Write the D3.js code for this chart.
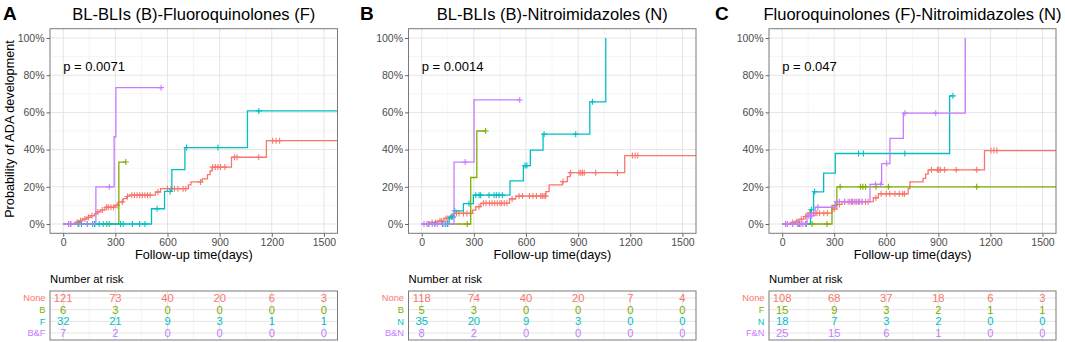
<!DOCTYPE html>
<html><head><meta charset="utf-8">
<script src="https://cdn.jsdelivr.net/npm/d3@7"></script>
<style>
html,body{margin:0;padding:0;background:#fff;}
svg{display:block;font-family:"Liberation Sans",Arial,sans-serif;}
</style></head>
<body><svg id="chart" width="1065" height="342"></svg>
<script>
// ---------- shared ----------
const xTicks = [0, 300, 600, 900, 1200, 1500];
const xMinor = [150, 450, 750, 1050, 1350];
const yTicks = [0, 20, 40, 60, 80, 100];
const yMinor = [10, 30, 50, 70, 90];
const colors = ["#F8766D", "#7CAE00", "#00BFC4", "#C77CFF"];
const letters = ["A", "B", "C"];
const titles = ["BL-BLIs (B)-Fluoroquinolones (F)", "BL-BLIs (B)-Nitroimidazoles (N)", "Fluoroquinolones (F)-Nitroimidazoles (N)"];
const pvals = ["p = 0.0071", "p = 0.0014", "p = 0.047"];
const strataA = ["None", "B", "F", "B&F"];
const strataB = ["None", "B", "N", "B&N"];
const strataC = ["None", "F", "N", "F&N"];

// ---------- Panel A ----------
const A_None_t = [0,67,90,110,135,160,180,195,215,240,300,316,345,365,380,530,560,720,735,800,830,845,856,968,1169];
const A_None_p = [0,0.9,1.8,2.7,3.6,4.5,5.5,6.5,7.5,9.0,10.0,11.8,13.6,14.8,15.5,17.2,19.0,21.0,22.6,24.3,26.5,28.5,30.6,35.9,44.8];
const A_None_c = [40,80,100,125,145,165,200,225,250,260,275,290,310,340,370,395,410,425,440,455,470,485,500,545,600,620,640,660,690,705,790,860,875,890,905,930,985,1000,1125,1205,1225,1245];
const A_B_t = [0,320];
const A_B_p = [0,33.3];
const A_B_c = [86,180,250,360];
const A_F_t = [0,508,583,625,700,1060];
const A_F_p = [0,8.2,17.5,29.2,41.1,60.8];
const A_F_c = [90,105,138,169,182,207,230,264,330,345,398,440,470,540,615,710,890,1125];
const A_BF_t = [0,188,293,303];
const A_BF_p = [0,20,46.9,73.3];
const A_BF_c = [30,45,265,563];
const A_end = [1600, 360, 1600, 563];
const A_risk_None = [121, 73, 40, 20, 6, 3];
const A_risk_B = [6, 3, 0, 0, 0, 0];
const A_risk_F = [32, 21, 9, 3, 1, 1];
const A_risk_BF = [7, 2, 0, 0, 0, 0];

// ---------- Panel B ----------
const B_None_t = [0,42,90,128,167,186,292,311,340,505,541,714,733,810,838,854,1168];
const B_None_p = [0,0.8,1.6,3.0,4.3,5.7,7.5,9.3,11.1,13.5,15.0,17.4,21.0,22.8,25.5,27.6,36.8];
const B_None_c = [30,60,80,105,115,140,150,175,200,215,240,260,280,330,355,370,390,405,420,435,450,460,475,490,520,560,580,620,640,660,685,694,704,713,813,857,905,915,925,935,1001,1126,1212,1228,1243];
const B_B_t = [0,282,317];
const B_B_p = [0,25,50];
const B_B_c = [150,262,368];
const B_N_t = [0,158,186,240,297,508,585,625,698,967,1059];
const B_N_p = [0,3.7,7.1,11.0,15.5,23.2,31.4,39.7,48.3,65.7,100];
const B_N_c = [40,75,119,138,148,170,180,190,272,311,330,339,387,416,429,445,464,595,605,704,886,982];
const B_BN_t = [0,186,301];
const B_BN_p = [0,33.3,66.7];
const B_BN_c = [13,42,61,90,128,250,564];
const B_end = [1600, 368, 1059, 564];
const B_risk_None = [118, 74, 40, 20, 7, 4];
const B_risk_B = [5, 3, 0, 0, 0, 0];
const B_risk_N = [35, 20, 9, 3, 0, 0];
const B_risk_BN = [8, 2, 0, 0, 0, 0];

// ---------- Panel C ----------
const C_None_t = [0,48,76,96,124,143,287,315,344,525,554,726,736,812,827,841,1166];
const C_None_p = [0,0.8,1.5,2.5,4.0,5.8,8.0,10.5,12.0,14.0,16.2,19.0,22.6,24.5,26.8,29.1,39.5];
const C_None_c = [30,60,85,110,135,160,180,200,215,240,260,300,330,360,380,400,415,430,445,460,480,495,540,570,600,620,650,675,695,705,860,894,902,911,936,1003,1121,1203,1220,1237];
const C_F_t = [0,287,315];
const C_F_p = [0,10,20];
const C_F_c = [60,100,140,172,258,334,452,465,481,541,612,1121];
const C_N_t = [0,163,181,239,306,965];
const C_N_p = [0,7.7,17.3,27.3,37.9,68.9];
const C_N_c = [90,168,187,440,468,707,984];
const C_FN_t = [0,143,190,306,506,573,621,698,1055];
const C_FN_p = [0,4.5,9.0,12.0,21.3,32.5,46.0,59.6,100];
const C_FN_c = [19,29,60,90,95,109,120,134,153,163,170,205,315,330,360,390,405,425,440,460,538,568,602,707,885];
const C_end = [1600, 1600, 984, 1055];
const C_risk_None = [108, 68, 37, 18, 6, 3];
const C_risk_F = [15, 9, 3, 2, 1, 1];
const C_risk_N = [18, 7, 3, 2, 0, 0];
const C_risk_FN = [25, 15, 6, 1, 0, 0];

// ---------- assemble ----------
const panels = [
  {strata: strataA, t: [A_None_t, A_B_t, A_F_t, A_BF_t], p: [A_None_p, A_B_p, A_F_p, A_BF_p],
   c: [A_None_c, A_B_c, A_F_c, A_BF_c], end: A_end, risk: [A_risk_None, A_risk_B, A_risk_F, A_risk_BF]},
  {strata: strataB, t: [B_None_t, B_B_t, B_N_t, B_BN_t], p: [B_None_p, B_B_p, B_N_p, B_BN_p],
   c: [B_None_c, B_B_c, B_N_c, B_BN_c], end: B_end, risk: [B_risk_None, B_risk_B, B_risk_N, B_risk_BN]},
  {strata: strataC, t: [C_None_t, C_F_t, C_N_t, C_FN_t], p: [C_None_p, C_F_p, C_N_p, C_FN_p],
   c: [C_None_c, C_F_c, C_N_c, C_FN_c], end: C_end, risk: [C_risk_None, C_risk_F, C_risk_N, C_risk_FN]}
];

const layout = [
  {x0: 50, x1: 337.5, letterX: 3},
  {x0: 408.5, x1: 696, letterX: 360},
  {x0: 769, x1: 1056, letterX: 715}
];
const plotTop = 28.7, plotBottom = 233.3;
const tabTop = 291, tabBottom = 340;
const svg = d3.select("#chart");
const defs = svg.append("defs");

panels.forEach((P, pi) => {
  const L = layout[pi];
  const x = d3.scaleLinear().domain([-76, 1578]).range([L.x0, L.x1]);
  const y = d3.scaleLinear().domain([-5, 105]).range([plotBottom, plotTop]);
  const g = svg.append("g");

  // background grid
  g.selectAll(".xmin").data(xMinor).enter().append("line")
    .attr("x1", d => x(d)).attr("x2", d => x(d)).attr("y1", plotTop).attr("y2", plotBottom)
    .attr("stroke", "#F3F3F3").attr("stroke-width", 0.8);
  g.selectAll(".ymin").data(yMinor).enter().append("line")
    .attr("y1", d => y(d)).attr("y2", d => y(d)).attr("x1", L.x0).attr("x2", L.x1)
    .attr("stroke", "#F3F3F3").attr("stroke-width", 0.8);
  g.selectAll(".xmaj").data(xTicks).enter().append("line")
    .attr("x1", d => x(d)).attr("x2", d => x(d)).attr("y1", plotTop).attr("y2", plotBottom)
    .attr("stroke", "#E5E5E5").attr("stroke-width", 1);
  g.selectAll(".ymaj").data(yTicks).enter().append("line")
    .attr("y1", d => y(d)).attr("y2", d => y(d)).attr("x1", L.x0).attr("x2", L.x1)
    .attr("stroke", "#E5E5E5").attr("stroke-width", 1);

  // clip
  const cid = "clip" + pi;
  defs.append("clipPath").attr("id", cid).append("rect")
    .attr("x", L.x0).attr("y", plotTop).attr("width", L.x1 - L.x0).attr("height", plotBottom - plotTop);
  const cg = g.append("g").attr("clip-path", `url(#${cid})`);

  const line = d3.line().x(d => x(d[0])).y(d => y(d[1])).curve(d3.curveStepAfter);
  P.strata.forEach((s, si) => {
    const ts = P.t[si], ps = P.p[si];
    const pts = ts.map((t, i) => [t, ps[i]]);
    pts.push([P.end[si], ps[ps.length - 1]]);
    cg.append("path").attr("d", line(pts)).attr("fill", "none")
      .attr("stroke", colors[si]).attr("stroke-width", 1.3);
    const valAt = c => { let v = 0; ts.forEach((t, i) => { if (t <= c) v = ps[i]; }); return v; };
    P.c[si].forEach(c => {
      const cx = x(c), cy = y(valAt(c));
      cg.append("path").attr("d", `M${cx - 3},${cy}H${cx + 3}M${cx},${cy - 3}V${cy + 3}`)
        .attr("stroke", colors[si]).attr("stroke-width", 1.1).attr("fill", "none");
    });
  });

  // border
  g.append("rect").attr("x", L.x0).attr("y", plotTop).attr("width", L.x1 - L.x0).attr("height", plotBottom - plotTop)
    .attr("fill", "none").attr("stroke", "#7A7A7A").attr("stroke-width", 1);

  // axes
  const xa = d3.axisBottom(x).tickValues(xTicks).tickSize(3.5).tickPadding(2).tickFormat(d3.format("d"));
  const xg = g.append("g").attr("transform", `translate(0,${plotBottom})`).call(xa);
  const ya = d3.axisLeft(y).tickValues(yTicks).tickSize(3.5).tickPadding(2).tickFormat(d => d + "%");
  const yg = g.append("g").attr("transform", `translate(${L.x0},0)`).call(ya);
  [xg, yg].forEach(a => {
    a.select(".domain").remove();
    a.selectAll(".tick line").attr("stroke", "#666");
    a.selectAll("text").attr("fill", "#4D4D4D").attr("font-size", 10.5).attr("font-family", "Liberation Sans, Arial, sans-serif");
  });

  // titles
  svg.append("text").attr("x", L.letterX).attr("y", 19.5).text(letters[pi])
    .attr("font-size", 19).attr("font-weight", "bold").attr("fill", "#000");
  svg.append("text").attr("x", (L.x0 + L.x1) / 2).attr("y", 19.5).attr("text-anchor", "middle")
    .text(titles[pi]).attr("font-size", 16.5).attr("fill", "#000");
  svg.append("text").attr("x", x(0)).attr("y", 71).text(pvals[pi]).attr("font-size", 13).attr("fill", "#000");
  svg.append("text").attr("x", (L.x0 + L.x1) / 2).attr("y", 258.5).attr("text-anchor", "middle")
    .text("Follow-up time(days)").attr("font-size", 12.7).attr("fill", "#000");
  if (pi === 0) {
    svg.append("text").attr("transform", `translate(13.5,${(plotTop + plotBottom) / 2 - 2}) rotate(-90)`)
      .attr("text-anchor", "middle").text("Probability of ADA development").attr("font-size", 12.7).attr("fill", "#000");
  }

  // risk table
  const ry = d3.scalePoint().domain(P.strata).range([tabTop, tabBottom]).padding(0.6);
  svg.append("text").attr("x", L.x0).attr("y", 283.3).text("Number at risk").attr("font-size", 11.3).attr("fill", "#000");
  const tg = svg.append("g");
  tg.selectAll(".tmin").data(xMinor).enter().append("line")
    .attr("x1", d => x(d)).attr("x2", d => x(d)).attr("y1", tabTop).attr("y2", tabBottom)
    .attr("stroke", "#F3F3F3").attr("stroke-width", 0.8);
  tg.selectAll(".tmaj").data(xTicks).enter().append("line")
    .attr("x1", d => x(d)).attr("x2", d => x(d)).attr("y1", tabTop).attr("y2", tabBottom)
    .attr("stroke", "#E5E5E5").attr("stroke-width", 1);
  tg.selectAll(".trow").data(P.strata).enter().append("line")
    .attr("y1", d => ry(d)).attr("y2", d => ry(d)).attr("x1", L.x0).attr("x2", L.x1)
    .attr("stroke", "#E5E5E5").attr("stroke-width", 1);
  tg.append("rect").attr("x", L.x0).attr("y", tabTop).attr("width", L.x1 - L.x0).attr("height", tabBottom - tabTop)
    .attr("fill", "none").attr("stroke", "#7A7A7A").attr("stroke-width", 1);
  P.strata.forEach((s, si) => {
    tg.append("text").attr("x", L.x0 - 4.5).attr("y", ry(s)).attr("dy", "0.35em").attr("text-anchor", "end")
      .text(s).attr("font-size", 9.3).attr("fill", colors[si]);
    P.risk[si].forEach((v, ti) => {
      tg.append("text").attr("x", x(xTicks[ti])).attr("y", ry(s)).attr("dy", "0.36em").attr("text-anchor", "middle")
        .text(v).attr("font-size", 11.2).attr("fill", colors[si]);
    });
  });
});
</script></body></html>
